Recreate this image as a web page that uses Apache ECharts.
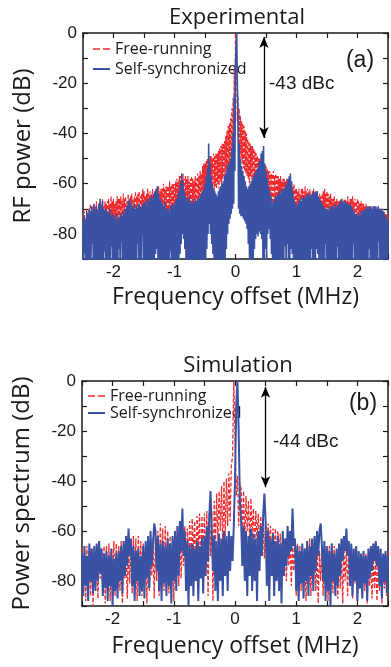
<!DOCTYPE html>
<html>
<head>
<meta charset="utf-8">
<script src="https://cdn.jsdelivr.net/npm/echarts@6/dist/echarts.min.js"></script>
<style>
  html, body { margin: 0; padding: 0; background: #fff; }
  #chart { width: 391px; height: 667px; }
</style>
</head>
<body>
<div id="chart"></div>
<script>
// Frequency sampling of the two spectra (MHz)
const freqStartExp = -2.5;
const freqStepExp = 0.01;
const freqStartSim = -2.5;
const freqStepSim = 0.02;

// Experimental RF spectrum, free-running laser (dB)
const expFreeRunning = [
  -73,-82,-71,-80,-74,-85,-70,-79,-72,-81,
  -70,-80,-68,-77,-71,-83,-69,-78,-68,-79,
  -69,-78,-67,-80,-70,-79,-68,-76,-67,-82,
  -68,-77,-66,-79,-69,-76,-67,-80,-68,-78,
  -67,-78,-66,-76,-68,-79,-65,-75,-67,-84,
  -66,-77,-68,-79,-67,-76,-65,-78,-66,-80,
  -66,-76,-65,-78,-67,-75,-64,-77,-66,-79,
  -65,-75,-67,-78,-64,-76,-66,-74,-65,-77,
  -64,-76,-66,-74,-65,-77,-63,-75,-65,-73,
  -64,-75,-63,-73,-65,-76,-64,-74,-62,-72,
  -63,-74,-65,-76,-64,-73,-62,-75,-64,-86,
  -63,-74,-64,-72,-62,-75,-64,-73,-63,-76,
  -62,-73,-63,-75,-61,-72,-63,-74,-62,-71,
  -62,-72,-60,-70,-62,-74,-61,-71,-61,-73,
  -61,-71,-59,-73,-61,-70,-60,-72,-60,-70,
  -60,-70,-59,-72,-58,-69,-59,-71,-57,-68,
  -57,-68,-58,-70,-56,-67,-58,-72,-57,-70,
  -58,-69,-57,-71,-59,-68,-58,-70,-57,-72,
  -58,-70,-59,-68,-57,-71,-58,-69,-56,-67,
  -57,-68,-55,-66,-56,-69,-53,-65,-52,-64,
  -52,-64,-51,-62,-50,-65,-50,-63,-49,-61,
  -49,-62,-50,-60,-48,-63,-49,-61,-48,-62,
  -48,-60,-47,-62,-46,-59,-45,-61,-44,-58,
  -44,-57,-43,-58,-41,-55,-39,-56,-37,-53,
  -36,-52,-34,-50,-30,-47,-26,-42,-14,-30,
  0,-6,-16,-35,-26,-44,-30,-48,-33,-50,
  -35,-52,-36,-54,-37,-55,-39,-56,-40,-57,
  -42,-58,-43,-60,-44,-57,-45,-61,-45,-59,
  -46,-62,-47,-66,-48,-72,-49,-70,-50,-74,
  -50,-73,-51,-68,-52,-64,-52,-66,-53,-65,
  -53,-66,-54,-68,-55,-65,-55,-67,-56,-69,
  -56,-68,-55,-67,-57,-70,-56,-69,-57,-68,
  -57,-69,-58,-70,-57,-68,-59,-71,-58,-70,
  -58,-70,-59,-71,-58,-69,-60,-72,-59,-70,
  -59,-71,-60,-72,-61,-70,-60,-73,-62,-74,
  -62,-73,-63,-75,-62,-72,-64,-74,-62,-76,
  -62,-74,-63,-72,-61,-75,-63,-73,-62,-74,
  -63,-73,-62,-75,-64,-74,-63,-72,-62,-76,
  -63,-75,-64,-74,-63,-76,-65,-73,-64,-75,
  -65,-76,-64,-74,-63,-75,-62,-73,-64,-77,
  -63,-76,-64,-74,-65,-77,-64,-75,-66,-76,
  -66,-77,-65,-76,-67,-78,-66,-75,-67,-79,
  -67,-78,-66,-77,-68,-79,-67,-76,-66,-78,
  -66,-77,-67,-79,-65,-76,-67,-78,-66,-77,
  -66,-76,-65,-78,-67,-77,-66,-79,-67,-76,
  -66,-77,-67,-79,-68,-78,-67,-80,-68,-79,
  -68,-79,-69,-80,-68,-78,-70,-81,-69,-80,
  -70,-80,-69,-81,-71,-79,-69,-82,-70,-80,
  -69,-81,-70,-80,-69,-82,-71,-79,-70,-81,
  -70,-80,-71,-82,-71,-81,-72,-83,-72,-82,
  -73
];

// Experimental RF spectrum, self-synchronized laser (dB)
const expSelfSync = [
  -75,-96,-73,-88,-74,-95,-71,-94,-72,-97,
  -70,-95,-72,-93,-69,-84,-71,-96,-68,-95,
  -70,-94,-69,-97,-71,-92,-68,-95,-66,-90,
  -69,-93,-67,-96,-70,-87,-71,-95,-70,-94,
  -71,-95,-72,-96,-70,-94,-73,-85,-72,-97,
  -73,-96,-74,-94,-72,-97,-75,-95,-73,-86,
  -74,-95,-72,-83,-73,-96,-71,-94,-72,-95,
  -70,-96,-69,-94,-67,-92,-66,-95,-68,-93,
  -69,-96,-70,-94,-68,-95,-70,-97,-69,-84,
  -70,-95,-68,-93,-69,-96,-70,-81,-68,-95,
  -68,-94,-67,-96,-69,-95,-66,-94,-67,-92,
  -66,-95,-65,-93,-66,-96,-64,-90,-63,-88,
  -62,-86,-61,-90,-64,-94,-66,-96,-67,-95,
  -68,-94,-69,-96,-67,-95,-70,-93,-70,-96,
  -70,-95,-71,-87,-69,-96,-68,-94,-69,-95,
  -68,-96,-67,-94,-66,-95,-64,-92,-62,-88,
  -60,-84,-56,-80,-59,-82,-63,-86,-65,-92,
  -66,-95,-67,-94,-65,-96,-68,-93,-67,-95,
  -67,-96,-68,-94,-66,-95,-67,-96,-66,-94,
  -66,-95,-65,-96,-64,-93,-63,-95,-62,-92,
  -60,-90,-57,-86,-54,-80,-44,-76,-52,-80,
  -57,-84,-60,-88,-62,-92,-63,-94,-64,-95,
  -65,-96,-63,-94,-62,-95,-61,-93,-60,-92,
  -59,-92,-57,-90,-56,-86,-54,-80,-52,-76,
  -52,-74,-50,-72,-46,-70,-40,-68,-25,-55,
  -12,-5,0,-20,-30,-70,-44,-72,-50,-73,
  -53,-73,-55,-74,-57,-75,-59,-76,-61,-78,
  -62,-84,-61,-90,-60,-94,-59,-95,-58,-93,
  -57,-86,-56,-82,-55,-80,-54,-81,-52,-79,
  -51,-80,-48,-82,-47,-92,-45,-95,-52,-86,
  -55,-90,-58,-80,-61,-78,-63,-82,-65,-88,
  -68,-95,-67,-94,-66,-96,-65,-93,-65,-95,
  -64,-96,-63,-94,-64,-95,-62,-97,-63,-94,
  -62,-85,-61,-95,-60,-84,-58,-96,-57,-93,
  -56,-86,-59,-88,-63,-94,-66,-95,-68,-96,
  -69,-95,-68,-96,-67,-94,-66,-95,-67,-93,
  -66,-96,-65,-94,-66,-95,-65,-96,-64,-94,
  -65,-95,-64,-93,-65,-86,-64,-96,-63,-95,
  -64,-90,-63,-86,-63,-88,-65,-94,-66,-95,
  -67,-96,-68,-94,-69,-95,-70,-84,-70,-96,
  -70,-95,-71,-97,-69,-94,-70,-95,-69,-96,
  -69,-94,-70,-96,-68,-95,-69,-85,-69,-96,
  -68,-95,-67,-94,-66,-90,-67,-96,-68,-95,
  -67,-96,-68,-94,-68,-95,-69,-97,-68,-94,
  -69,-95,-70,-84,-71,-96,-72,-94,-72,-95,
  -73,-96,-72,-94,-73,-97,-71,-95,-71,-94,
  -71,-95,-70,-96,-70,-94,-69,-95,-70,-86,
  -69,-94,-69,-96,-70,-95,-69,-94,-69,-96,
  -69,-95,-70,-94,-69,-83,-70,-96,-70,-95,
  -70,-96,-71,-94,-72,-95,-73,-96,-74,-94,
  -75
];

// Simulated power spectrum, free-running laser (dB)
const simFreeRunning = [
  -67,-84,-69,-88,-66,-80,-68,-86,-67,-90,
  -68,-82,-66,-87,-69,-79,-67,-85,-66,-89,
  -66,-83,-65,-88,-67,-80,-64,-86,-65,-82,
  -66,-84,-64,-89,-67,-79,-65,-87,-66,-81,
  -64,-85,-62,-80,-63,-88,-62,-82,-64,-86,
  -65,-81,-66,-89,-64,-84,-65,-78,-63,-87,
  -63,-80,-60,-86,-57,-78,-59,-84,-58,-80,
  -60,-85,-62,-78,-63,-88,-61,-76,-58,-82,
  -57,-79,-59,-74,-58,-84,-59,-72,-56,-80,
  -55,-70,-56,-76,-54,-68,-53,-78,-54,-72,
  -53,-74,-52,-86,-53,-70,-52,-88,-48,-66,
  -45,-64,-44,-60,-42,-66,-40,-62,-39,-58,
  -37,-56,-34,-30,0,-22,-46,-38,-58,-41,
  -43,-62,-44,-64,-46,-60,-48,-66,-47,-62,
  -51,-68,-52,-64,-53,-70,-54,-66,-55,-71,
  -56,-72,-57,-66,-58,-74,-59,-68,-59,-76,
  -60,-70,-61,-78,-62,-72,-63,-80,-62,-74,
  -63,-82,-64,-76,-64,-86,-65,-78,-66,-84,
  -66,-80,-67,-88,-64,-82,-63,-86,-65,-79,
  -66,-84,-67,-89,-68,-80,-67,-86,-66,-82,
  -67,-88,-66,-81,-65,-85,-66,-79,-68,-87,
  -69,-83,-68,-89,-67,-80,-66,-86,-67,-82,
  -67,-87,-68,-81,-69,-88,-68,-83,-69,-86,
  -70,-84,-69,-89,-70,-82,-71,-87,-70,-83,
  -71,-88,-70,-84,-71,-89,-70,-83,-69,-86,
  -68
];

// Simulated power spectrum, self-synchronized laser (dB)
const simSelfSync = [
  -69,-86,-66,-82,-70,-88,-65,-80,-67,-85,
  -66,-84,-65,-80,-64,-77,-67,-86,-69,-83,
  -68,-88,-70,-82,-67,-90,-71,-84,-69,-87,
  -68,-80,-66,-85,-64,-78,-62,-74,-59,-70,
  -63,-82,-66,-88,-68,-80,-67,-86,-70,-84,
  -66,-87,-64,-79,-62,-83,-60,-74,-65,-57,
  -60,-76,-62,-84,-65,-88,-64,-81,-66,-86,
  -63,-82,-65,-89,-62,-80,-60,-84,-58,-78,
  -56,-68,-51,-70,-60,-84,-64,-90,-66,-82,
  -65,-86,-67,-80,-64,-88,-66,-79,-63,-85,
  -62,-78,-58,-72,-54,-44,-60,-76,-62,-84,
  -64,-88,-61,-80,-63,-86,-60,-78,-62,-84,
  -60,-76,-62,-72,-58,-40,-10,0,-20,-48,
  -56,-74,-58,-80,-60,-86,-62,-78,-59,-84,
  -61,-80,-63,-88,-60,-76,-58,-70,-54,-45,
  -56,-82,-60,-88,-63,-78,-61,-86,-64,-80,
  -62,-84,-65,-89,-60,-78,-63,-74,-58,-70,
  -60,-68,-51,-66,-63,-84,-66,-88,-68,-81,
  -65,-87,-67,-80,-64,-86,-66,-78,-63,-84,
  -62,-76,-60,-70,-60,-57,-66,-80,-64,-88,
  -66,-84,-68,-90,-65,-80,-69,-86,-67,-82,
  -65,-78,-63,-72,-62,-68,-59,-70,-64,-82,
  -65,-86,-67,-80,-66,-88,-68,-83,-69,-87,
  -68,-81,-70,-88,-67,-79,-66,-76,-65,-72,
  -64,-74,-66,-82,-67,-87,-69,-80,-68,-85,
  -70
];

// Axis ticks and labels
const freqMin = -2.5, freqMax = 2.5, freqTickStep = 0.5;
const dbMin = -90, dbMax = 0, dbTickStep = 10, dbLabelStep = 20;

// Carrier-to-sideband annotations (MHz, dB)
const arrowExp = { freq: 0.466, top: -1.6, bottom: -41.8, text: '-43 dBc' };
const arrowSim = { freq: 0.498, top: -2.3, bottom: -42.5, text: '-44 dBc' };

const RED = '#ee2a2f';
const BLUE = '#3a52a3';
const INK = '#1a1a1a';
const TICK_FONT = '"Liberation Sans", Arial, sans-serif';
const TEXT_FONT = '"Open Sans", sans-serif';

function toPairs(values, start, step) {
  return values.map((v, i) => [+(start + i * step).toFixed(3), v]);
}

const axisLineStyle = { color: INK, width: 1.5 };
const tickStyle = { inside: true, length: 5, lineStyle: { color: INK, width: 1.2 } };

function freqAxes(gridIndex, nameGap) {
  return [
    {
      gridIndex, type: 'value', position: 'bottom',
      min: freqMin, max: freqMax, interval: freqTickStep,
      axisLine: { onZero: false, lineStyle: axisLineStyle },
      axisTick: tickStyle,
      splitLine: { show: false },
      axisLabel: {
        color: INK, fontFamily: TICK_FONT, fontSize: 17, margin: 5,
        formatter: v => (Number.isInteger(v) ? String(v) : '')
      },
      name: 'Frequency offset (MHz)', nameLocation: 'middle', nameGap,
      nameTextStyle: { color: INK, fontFamily: TEXT_FONT, fontSize: 23 }
    },
    {
      gridIndex, type: 'value', position: 'top',
      min: freqMin, max: freqMax, interval: freqTickStep,
      axisLine: { onZero: false, lineStyle: axisLineStyle },
      axisTick: tickStyle,
      splitLine: { show: false },
      axisLabel: { show: false }
    }
  ];
}

function dbAxes(gridIndex, name) {
  return [
    {
      gridIndex, type: 'value', position: 'left',
      min: dbMin, max: dbMax, interval: dbTickStep,
      axisLine: { onZero: false, lineStyle: axisLineStyle },
      axisTick: tickStyle,
      splitLine: { show: false },
      axisLabel: {
        color: INK, fontFamily: TICK_FONT, fontSize: 17, margin: 6,
        formatter: v => (v % dbLabelStep === 0 ? String(v) : '')
      },
      name, nameLocation: 'middle', nameGap: 48, nameRotate: 90,
      nameTextStyle: { color: INK, fontFamily: TEXT_FONT, fontSize: 24 }
    },
    {
      gridIndex, type: 'value', position: 'right',
      min: dbMin, max: dbMax, interval: dbTickStep,
      axisLine: { onZero: false, lineStyle: axisLineStyle },
      axisTick: tickStyle,
      splitLine: { show: false },
      axisLabel: { show: false }
    }
  ];
}

function arrowMark(a) {
  return {
    silent: true,
    animation: false,
    symbol: ['arrow', 'arrow'],
    symbolSize: [7, 11],
    lineStyle: { color: '#000', width: 1.3, type: 'solid' },
    label: { show: false },
    emphasis: { disabled: true },
    data: [[{ coord: [a.freq, a.top] }, { coord: [a.freq, a.bottom] }]]
  };
}

function spectrum(data, xAxisIndex, yAxisIndex, color, width, dashed, z, markLine) {
  const s = {
    type: 'line', xAxisIndex, yAxisIndex, data,
    showSymbol: false, symbol: 'none', silent: true, animation: false, clip: true, z,
    lineStyle: { color, width, type: dashed ? [4, 2] : 'solid' }
  };
  if (markLine) s.markLine = markLine;
  return s;
}

function legendGraphics(x, yFree, ySelf) {
  return [
    { type: 'line', shape: { x1: x, y1: yFree, x2: x + 17, y2: yFree },
      style: { stroke: RED, lineWidth: 1.6, lineDash: [7, 3] } },
    { type: 'line', shape: { x1: x, y1: ySelf, x2: x + 17, y2: ySelf },
      style: { stroke: BLUE, lineWidth: 2 } },
    { type: 'text', x: x + 22, y: yFree,
      style: { text: 'Free-running', fill: INK, font: '16px ' + TEXT_FONT, verticalAlign: 'middle' } },
    { type: 'text', x: x + 22, y: ySelf,
      style: { text: 'Self-synchronized', fill: INK, font: '16px ' + TEXT_FONT, verticalAlign: 'middle' } }
  ];
}

const chart = echarts.init(document.getElementById('chart'), null, { renderer: 'canvas' });

chart.setOption({
  animation: false,
  backgroundColor: '#fff',
  grid: [
    { left: 83, top: 33, width: 308, height: 226 },
    { left: 82, top: 381, width: 308, height: 225 }
  ],
  xAxis: [...freqAxes(0, 27), ...freqAxes(1, 29)],
  yAxis: [...dbAxes(0, 'RF power (dB)'), ...dbAxes(1, 'Power spectrum (dB)')],
  series: [
    spectrum(toPairs(expFreeRunning, freqStartExp, freqStepExp), 0, 0, RED, 1.2, true, 2),
    spectrum(toPairs(expSelfSync, freqStartExp, freqStepExp), 0, 0, BLUE, 1.6, false, 3, arrowMark(arrowExp)),
    spectrum(toPairs(simFreeRunning, freqStartSim, freqStepSim), 2, 2, RED, 1.3, true, 2),
    spectrum(toPairs(simSelfSync, freqStartSim, freqStepSim), 2, 2, BLUE, 2, false, 3, arrowMark(arrowSim))
  ],
  graphic: [
    { type: 'text', x: 237, y: 18,
      style: { text: 'Experimental', fill: INK, font: '22px ' + TEXT_FONT, align: 'center', verticalAlign: 'middle' } },
    { type: 'text', x: 238, y: 366,
      style: { text: 'Simulation', fill: INK, font: '22px ' + TEXT_FONT, align: 'center', verticalAlign: 'middle' } },
    { type: 'text', x: 360, y: 61,
      style: { text: '(a)', fill: INK, font: '23px ' + TICK_FONT, align: 'center', verticalAlign: 'middle' } },
    { type: 'text', x: 363, y: 404,
      style: { text: '(b)', fill: INK, font: '23px ' + TICK_FONT, align: 'center', verticalAlign: 'middle' } },
    { type: 'text', x: 269, y: 84,
      style: { text: arrowExp.text, fill: INK, font: '19px ' + TICK_FONT, verticalAlign: 'middle' } },
    { type: 'text', x: 273, y: 442,
      style: { text: arrowSim.text, fill: INK, font: '19px ' + TICK_FONT, verticalAlign: 'middle' } },
    ...legendGraphics(93, 49, 69),
    ...legendGraphics(88, 396, 413)
  ]
});
</script>
</body>
</html>
